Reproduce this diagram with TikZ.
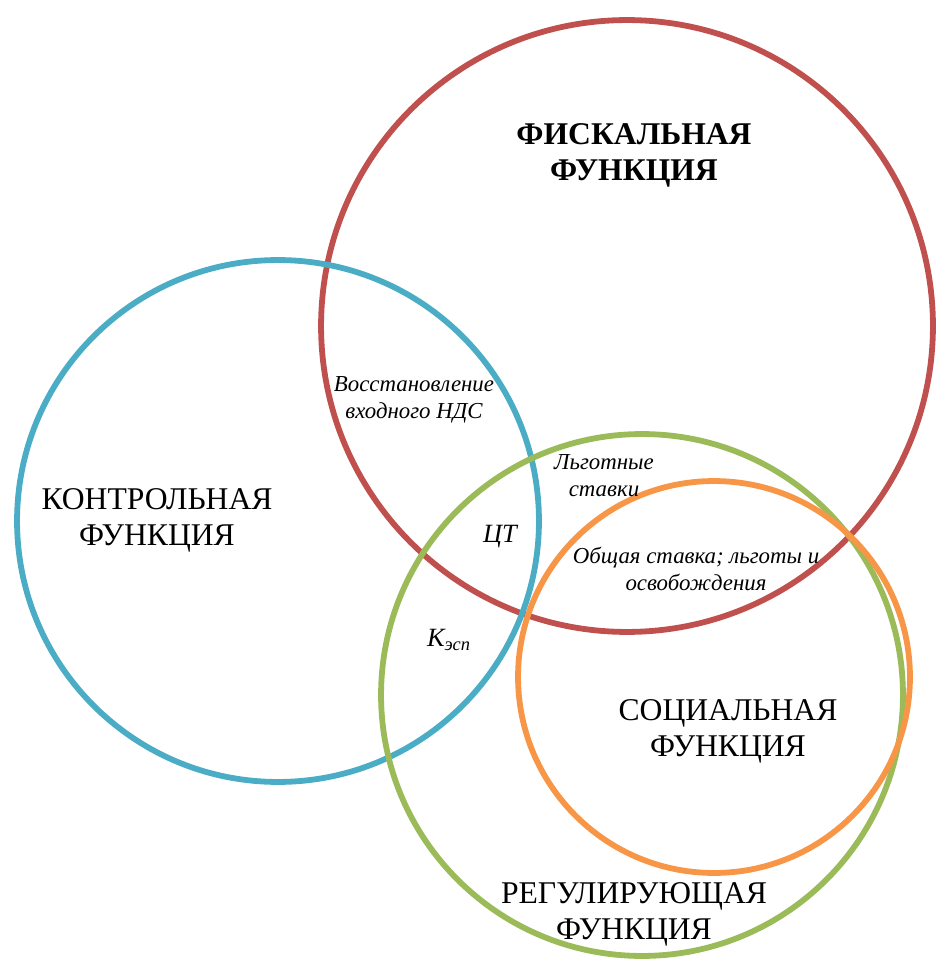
\documentclass[tikz,border=0pt]{standalone}
\usepackage{fontspec}
\setmainfont{Liberation Serif}
\usepackage{tikz}
\usetikzlibrary{positioning}
\definecolor{fiscred}{RGB}{192,80,77}
\definecolor{ctrlblue}{RGB}{75,172,198}
\definecolor{reggreen}{RGB}{155,187,89}
\definecolor{socorange}{RGB}{247,150,70}

\begin{document}
\begin{tikzpicture}[
    x=0.02cm, y=-0.02cm,
    ring/.style={circle, draw, line width=3.3pt, inner sep=0pt, outer sep=0pt},
    fisc/.style={ring, draw=fiscred, minimum size=12.24cm},
    ctrl/.style={ring, draw=ctrlblue, minimum size=10.44cm},
    regl/.style={ring, draw=reggreen, minimum size=10.44cm},
    soc/.style={ring, draw=socorange, minimum size=7.84cm},
    title/.style={align=center, font=\fontsize{18}{20.5}\selectfont},
    note/.style={align=center, font=\fontsize{13}{15.5}\selectfont\itshape},
]
\useasboundingbox (0,0) rectangle (936,959);

% --- Rings ---
\node[fisc] (fiscal) at (627,326) {};
\node[ctrl] (control) at (278,521) {};
\node[regl] (regul) at (642,695) {};
\node[soc] (social) at (714,677) {};

% --- Function names ---
\node[title, font=\fontsize{18}{20.5}\selectfont\bfseries] (fisctxt) at (634,155) {ФИСКАЛЬНАЯ\\ФУНКЦИЯ};
\node[title] (ctrltxt) at (157,520) {КОНТРОЛЬНАЯ\\ФУНКЦИЯ};
\node[title] (soctxt) at (728,731) {СОЦИАЛЬНАЯ\\ФУНКЦИЯ};
\node[title] (regtxt) at (634,914) {РЕГУЛИРУЮЩАЯ\\ФУНКЦИЯ};

% --- Overlap notes ---
\node[note] (restore) at (414,400) {Восстановление\\входного НДС};
\node[note] (benefit) at (604,476) {Льготные\\ставки};
\node[note, font=\fontsize{15}{18}\selectfont\itshape] (ct) at (500,537) {ЦТ};
\node[note] (general) at (696,569) {Общая ставка; льготы и\\освобождения};
\node[note, font=\fontsize{15}{18}\selectfont\itshape] (kesp) at (449,640) {K\textsubscript{эсп}};

\end{tikzpicture}
\end{document}
